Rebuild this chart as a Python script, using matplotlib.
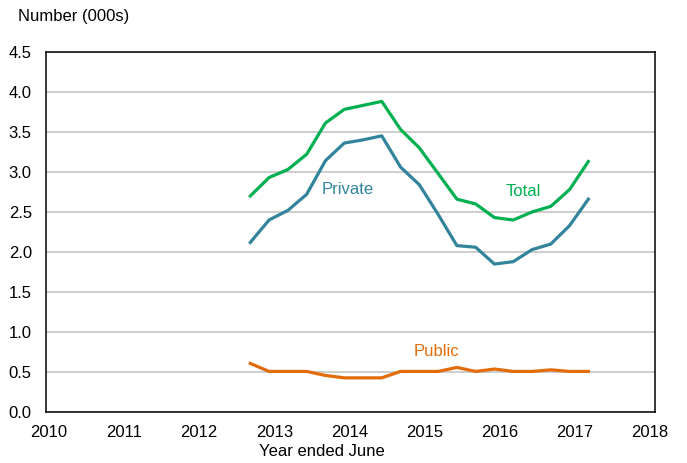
import numpy as np
import matplotlib
matplotlib.use('Agg')
import matplotlib.pyplot as plt

plt.rcParams['font.family'] = ['Liberation Sans', 'DejaVu Sans']

# Quarterly observations, year ended June (rolling)
quarters = 2012.68 + 0.25 * np.arange(19)

total = [2.70, 2.93, 3.03, 3.22, 3.61, 3.78, 3.83, 3.88, 3.53, 3.30,
         2.98, 2.66, 2.60, 2.43, 2.40, 2.50, 2.57, 2.78, 3.13]
private = [2.12, 2.40, 2.52, 2.72, 3.14, 3.36, 3.40, 3.45, 3.06, 2.84,
           2.47, 2.08, 2.06, 1.85, 1.88, 2.03, 2.10, 2.33, 2.66]
public = [0.61, 0.51, 0.51, 0.51, 0.46, 0.43, 0.43, 0.43, 0.51, 0.51,
          0.51, 0.56, 0.51, 0.54, 0.51, 0.51, 0.53, 0.51, 0.51]

year_ticks = list(range(2010, 2019))
y_ticks = np.arange(0, 4.51, 0.5)

c_total = '#00B050'
c_private = '#31849B'
c_public = '#E36C09'

fig = plt.figure(figsize=(6.87, 4.63), dpi=100)
ax = fig.add_axes([0.0665, 0.1095, 0.8869, 0.7788])

ax.plot(quarters, total, color=c_total, linewidth=2.3, solid_joinstyle='round')
ax.plot(quarters, private, color=c_private, linewidth=2.3, solid_joinstyle='round')
ax.plot(quarters, public, color=c_public, linewidth=2.3, solid_joinstyle='round')

ax.text(2013.98, 2.78, 'Private', color=c_private, fontsize=12, ha='center', va='center')
ax.text(2016.31, 2.75, 'Total', color=c_total, fontsize=12, ha='center', va='center')
ax.text(2015.16, 0.76, 'Public', color=c_public, fontsize=12, ha='center', va='center')

ax.set_xlim(2009.956, 2018.067)
ax.set_ylim(0, 4.5)
ax.set_xticks(year_ticks)
ax.set_xticklabels([str(y) for y in year_ticks])
ax.set_yticks(y_ticks)
ax.set_yticklabels([f'{v:.1f}' for v in y_ticks])
ax.tick_params(axis='both', length=0, labelsize=12)
ax.tick_params(axis='y', pad=10)
ax.tick_params(axis='x', pad=9)

ax.grid(axis='y', color='#C0C0C0', linewidth=1.1)
ax.set_axisbelow(True)
for s in ax.spines.values():
    s.set_color('black')
    s.set_linewidth(1.1)

fig.text(18 / 687, 1 - 17 / 463, 'Number (000s)', fontsize=12, ha='left', va='center')
fig.text(322 / 687, 1 - 452 / 463, 'Year ended June', fontsize=12, ha='center', va='center')

fig.savefig('out.png', dpi=100)
